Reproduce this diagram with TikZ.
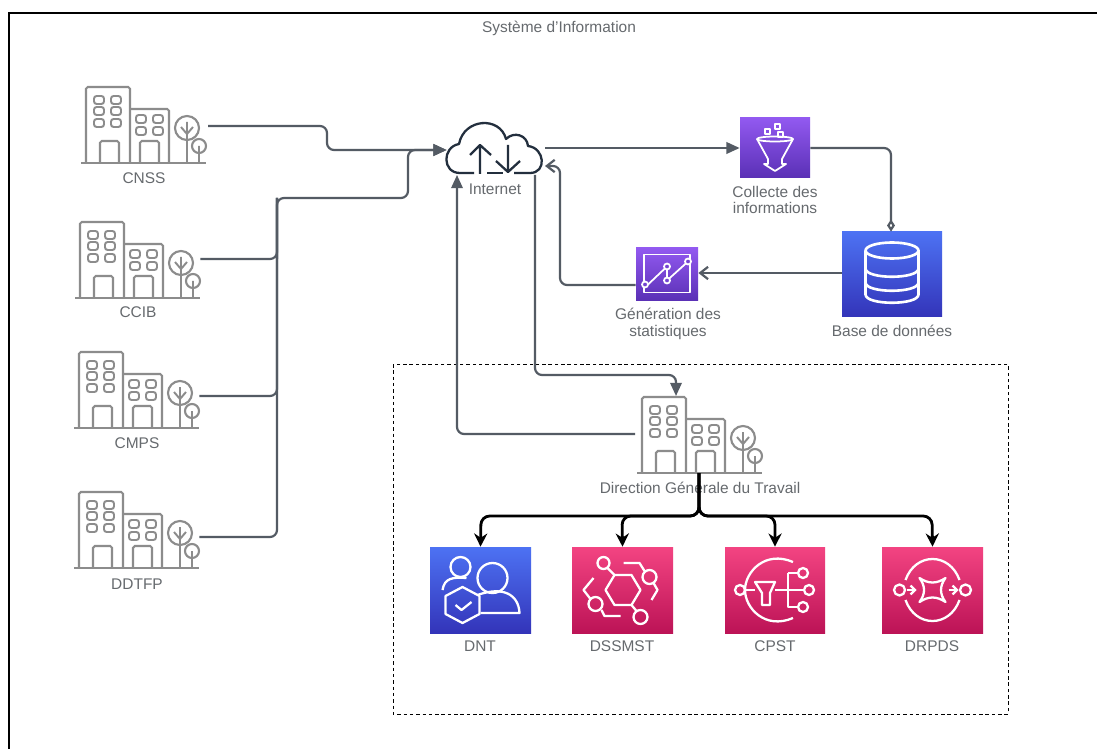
\documentclass[tikz,border=0pt]{standalone}
\usepackage{fontspec}
\setmainfont{Liberation Sans}
\usetikzlibrary{arrows.meta}
\definecolor{linegray}{HTML}{545B64}
\definecolor{bldgray}{HTML}{8C8C8C}
\definecolor{txtgray}{HTML}{666A6E}
\definecolor{cloudink}{HTML}{232F3E}
\def\px{0.02cm}
\tikzset{
    txt/.style={text=txtgray, font=\fontsize{8.8}{9.6}\selectfont, align=center, inner sep=0pt},
    flow/.style={draw=linegray, line width=1.25pt, rounded corners=4pt},
    tree/.style={draw=black, line width=1.6pt, rounded corners=5pt, -{Stealth[length=7.5pt,width=7.5pt]}},
    filltip/.style={-{Triangle[length=7.5pt,width=6.5pt]}},
    opentip/.style={-{Straight Barb[length=4.5pt,width=7pt]}},
    bldnode/.style={minimum width=125*\px, minimum height=76*\px, inner sep=0pt},
    purplebox/.style={top color=purple1, bottom color=purple2, inner sep=0pt},
    bluebox/.style={top color=blue1, bottom color=blue2, inner sep=0pt},
    pinkbox/.style={top color=pink1, bottom color=pink2, inner sep=0pt},
    ink/.style={draw=white, line width=1pt, line join=round},
    inkb/.style={draw=white, line width=1.3pt, line join=round},
    building/.pic={
        \draw[bldgray, line width=1.2pt, rounded corners=1pt] (0,0) -- (0,-76) -- (44,-76) -- (44,0);
        \draw[bldgray, line width=1.2pt, rounded corners=1pt] (44,-54) -- (83,-54) -- (83,0);
        \draw[bldgray, line width=1.2pt, rounded corners=1pt] (14,0) -- (14,-22) -- (33,-22) -- (33,0);
        \draw[bldgray, line width=1.2pt, rounded corners=1pt] (54,0) -- (54,-22) -- (73,-22) -- (73,0);
        \draw[bldgray, line width=1.3pt] (-5,0) -- (120,0);
        \draw[bldgray, line width=1.1pt, rounded corners=1.5pt]
            (8,-67) rectangle (18,-59) (25,-67) rectangle (35,-59)
            (8,-56) rectangle (18,-48) (25,-56) rectangle (35,-48)
            (8,-44) rectangle (18,-36) (25,-44) rectangle (35,-36)
            (50,-48) rectangle (60,-40) (67,-48) rectangle (77,-40)
            (50,-36) rectangle (60,-28) (67,-36) rectangle (77,-28);
        \draw[bldgray, line width=1.2pt] (101,-35) circle [radius=12] (113,-17) circle [radius=7];
        \draw[bldgray, line width=1.1pt] (101,0) -- (101,-41) (101,-29) -- (95,-36) (101,-29) -- (107,-36)
            (113,0) -- (113,-17);
    },
    funnelicon/.pic={
        \draw[ink] (0,-9) ellipse [x radius=18, y radius=2.5];
        \draw[ink] (-18,-9) -- (-7,11) -- (-7,16) -- (-11,16) -- (0,23) -- (11,16) -- (7,16) -- (7,11) -- (18,-9);
        \draw[ink] (-10,-19) rectangle (-5,-14) (0,-24) rectangle (5,-19) (3,-16) rectangle (8,-11);
    },
    dbicon/.pic={
        \draw[inkb, line width=1.5pt] (0,-24) ellipse [x radius=26.5, y radius=8];
        \draw[inkb, line width=1.5pt] (-26.5,-24) -- (-26.5,20) .. controls (-26.5,31) and (26.5,31) .. (26.5,20) -- (26.5,-24);
        \draw[inkb, line width=1.5pt] (-26.5,-6) .. controls (-26.5,5) and (26.5,5) .. (26.5,-6);
        \draw[inkb, line width=1.5pt] (-26.5,8) .. controls (-26.5,19) and (26.5,19) .. (26.5,8);
    },
    charticon/.pic={
        \draw[ink] (-23,-20) rectangle (23,18);
        \draw[ink] (-19,10) -- (0,-8) -- (0,6) -- (21,-13);
        \draw[ink, fill=purple3] (-22,10) circle [radius=3] (0,-8) circle [radius=3] (0,6) circle [radius=3] (21,-13) circle [radius=3];
    },
    usersicon/.pic={
        \draw[inkb] (-20,-23) circle [radius=10];
        \draw[inkb] (12,-12) circle [radius=15];
        \draw[inkb] (-38,0) .. controls (-36,-12) and (-28,-13) .. (-14,-12);
        \draw[inkb] (-3,5) .. controls (22,-4) and (38,4) .. (39,23) -- (0,23);
        \draw[inkb] (-18,-3) -- (-1,6) -- (-1,24) -- (-18,33) -- (-35,24) -- (-35,6) -- cycle;
        \draw[inkb] (-25,15) -- (-19,20) -- (-9,12);
    },
    ringsicon/.pic={
        \draw[inkb] (-17,0) -- (-8,-15) -- (9,-15) -- (18,0) -- (9,15) -- (-8,15) -- cycle;
        \draw[inkb] (-19,-27) circle [radius=6] (18,27) circle [radius=7] (27,-13) circle [radius=7] (-27,14) circle [radius=7];
        \draw[inkb] (-15,-22) -- (-8,-15) (9,15) -- (14,21);
        \draw[inkb] (1,-27) -- (17,-27) -- (22,-19) (31,-7) -- (35,0) -- (29,10);
        \draw[inkb] (-29,-12) -- (-39,0) -- (-32,9) (-21,20) -- (-18,26) -- (-2,26);
    },
    filtericon/.pic={
        \draw[inkb] (18,-28) .. controls (-10,-40) and (-30,-18) .. (-30,0) .. controls (-30,18) and (-10,40) .. (18,28);
        \draw[inkb] (-35,0) circle [radius=5] (28,-17) circle [radius=5] (34,0) circle [radius=5] (28,17) circle [radius=5];
        \draw[inkb] (-30,0) -- (-20,0) (0,0) -- (29,0) (13,-17) -- (23,-17) (13,-17) -- (13,17) -- (23,17);
        \draw[inkb] (-20,-8) -- (0,-8) -- (-5,3) -- (-5,15) -- (-13,15) -- (-13,3) -- cycle;
    },
    queueicon/.pic={
        \draw[inkb] (-27,-10) .. controls (-17,-38) and (17,-38) .. (27,-10);
        \draw[inkb] (-27,10) .. controls (-17,38) and (17,38) .. (27,10);
        \draw[inkb] (-33,0) circle [radius=5.5] (33,0) circle [radius=5.5];
        \draw[inkb, -{Straight Barb[length=2.5pt,width=5pt]}] (-26,0) -- (-16,0);
        \draw[inkb, -{Straight Barb[length=2.5pt,width=5pt]}] (16,0) -- (26,0);
        \draw[inkb] (-13,-12) .. controls (-4,-6) and (4,-6) .. (13,-12) .. controls (7,-4) and (7,4) .. (13,12)
            .. controls (4,6) and (-4,6) .. (-13,12) .. controls (-7,4) and (-7,-4) .. (-13,-12) -- cycle;
    }
}
\definecolor{purple1}{HTML}{9259F0}
\definecolor{purple2}{HTML}{5A30B5}
\definecolor{purple3}{HTML}{7443D2}
\definecolor{blue1}{HTML}{4D72F3}
\definecolor{blue2}{HTML}{3334B9}
\definecolor{pink1}{HTML}{F34482}
\definecolor{pink2}{HTML}{BC1356}

\begin{document}
\begin{tikzpicture}[x=0.02cm, y=-0.02cm]
    \useasboundingbox (0,0) rectangle (1097,749);
    \fill[white] (0,0) rectangle (1097,749);
    \draw[black, line width=0.6pt] (9,749) -- (9,13) -- (1097,13);
    \draw[black, line width=0.45pt, dash pattern=on 2pt off 1.6pt] (393,364) rectangle (1008,714);
    \node (title) [txt] at (559,28) {Système d'Information};

    \node (cnss) [bldnode] at (143.5,125) {};
    \pic at (86,163) {building};
    \node (cnsslabel) [txt] at (144,178) {CNSS};
    \node (ccib) [bldnode] at (137.5,260) {};
    \pic at (80,298) {building};
    \node (ccibabel) [txt] at (138,312) {CCIB};
    \node (cmps) [bldnode] at (136.5,390) {};
    \pic at (79,428) {building};
    \node (cmpslabel) [txt] at (137,443) {CMPS};
    \node (ddtfp) [bldnode] at (136.5,530) {};
    \pic at (79,568) {building};
    \node (ddtfplabel) [txt] at (137,584) {DDTFP};
    \node (dgt) [bldnode] at (699.5,435) {};
    \pic at (642,473) {building};
    \node (dgtlabel) [txt] at (700,488) {Direction Générale du Travail};

    \node (internet) [minimum width=96*\px, minimum height=48*\px, inner sep=0pt] at (495,150) {};
    \draw[cloudink, line width=1.3pt, line join=round] (474,173) -- (460,173) .. controls (442,173) and (442,147) .. (459,144)
        .. controls (464,118) and (500,116) .. (506,139) .. controls (514,131) and (527,135) .. (528,146)
        .. controls (545,148) and (547,173) .. (530,173) -- (514,173);
    \draw[cloudink, line width=1.3pt] (487,173) -- (503,173);
    \draw[cloudink, line width=1.3pt, line join=round] (480,174) -- (480,145) (470,155) -- (480,145) -- (491,155);
    \draw[cloudink, line width=1.3pt, line join=round] (508,145) -- (508,172) (496,161) -- (508,172) -- (520,161);
    \node (internetlabel) [txt] at (495,189) {Internet};

    \node (collecte) [purplebox, minimum width=70*\px, minimum height=60*\px] at (775,148) {};
    \pic at (collecte.center) {funnelicon};
    \node (collectelabel) [txt] at (775,200) {Collecte des\\informations};
    \node (base) [bluebox, minimum width=100*\px, minimum height=85*\px] at (892,274.5) {};
    \pic at (base.center) {dbicon};
    \node (baselabel) [txt] at (892,331) {Base de données};
    \node (stats) [purplebox, minimum width=62*\px, minimum height=53*\px] at (667,274.5) {};
    \pic at (stats.center) {charticon};
    \node (statslabel) [txt] at (668,324) {Génération des\\statistiques};

    \node (dnt) [bluebox, minimum width=101*\px, minimum height=86*\px] at (480.5,590) {};
    \pic at (dnt.center) {usersicon};
    \node (dntlabel) [txt] at (480,646) {DNT};
    \node (dssmst) [pinkbox, minimum width=101*\px, minimum height=86*\px] at (622.5,590) {};
    \pic at (dssmst.center) {ringsicon};
    \node (dssmstlabel) [txt] at (622,646) {DSSMST};
    \node (cpst) [pinkbox, minimum width=100*\px, minimum height=86*\px] at (775,590) {};
    \pic at (cpst.center) {filtericon};
    \node (cpstlabel) [txt] at (775,646) {CPST};
    \node (drpds) [pinkbox, minimum width=101*\px, minimum height=86*\px] at (932.5,590) {};
    \pic at (drpds.center) {queueicon};
    \node (drpdslabel) [txt] at (932,646) {DRPDS};

    \coordinate (bus) at (277,198);
    \coordinate (busin) at (408,198);
    \coordinate (backin) at (545,166);
    \coordinate (upin) at (457,175);
    \coordinate (downout) at (535,175);
    \coordinate (dgtin) at (676,396);
    \coordinate (dgtout) at (635,434);
    \coordinate (dgtbase) at (699,473);
    \coordinate (split) at (699,516);
    \coordinate (outin) at (545,148);

    \draw[flow, filltip] (208,126) -- (327,126) -- (327,150) -- (internet.west);
    \draw[flow] (ccib.east |- 0,259) -- (277,259) -- (bus);
    \draw[flow] (cmps.east |- 0,396) -- (277,396) -- (bus);
    \draw[flow] (ddtfp.east |- 0,537) -- (277,537) -- (bus);
    \draw[flow, filltip] (277,259) -- (bus) -- (busin) -- (408,150) -- (internet.west);

    \draw[flow, filltip] (outin) -- (collecte.west);
    \draw[flow, -{Diamond[open, length=7pt, width=4.5pt]}] (collecte.east) -- (891,148) -- (base.north -| 891,0);
    \draw[flow, opentip] (base.west |- 0,273) -- (stats.east |- 0,273);
    \draw[flow, opentip] (stats.west |- 0,285) -- (560,285) -- (560,166) -- (backin);
    \draw[flow, filltip] (downout) -- (535,375) -- (676,375) -- (dgtin);
    \draw[flow, filltip] (dgtout) -- (457,434) -- (upin);

    \draw[tree] (dgtbase) -- (split) -- (481,516) -- (dnt.north);
    \draw[tree] (dgtbase) -- (split) -- (622,516) -- (dssmst.north);
    \draw[tree] (dgtbase) -- (split) -- (775,516) -- (cpst.north);
    \draw[tree] (dgtbase) -- (split) -- (932,516) -- (drpds.north);
\end{tikzpicture}
\end{document}
